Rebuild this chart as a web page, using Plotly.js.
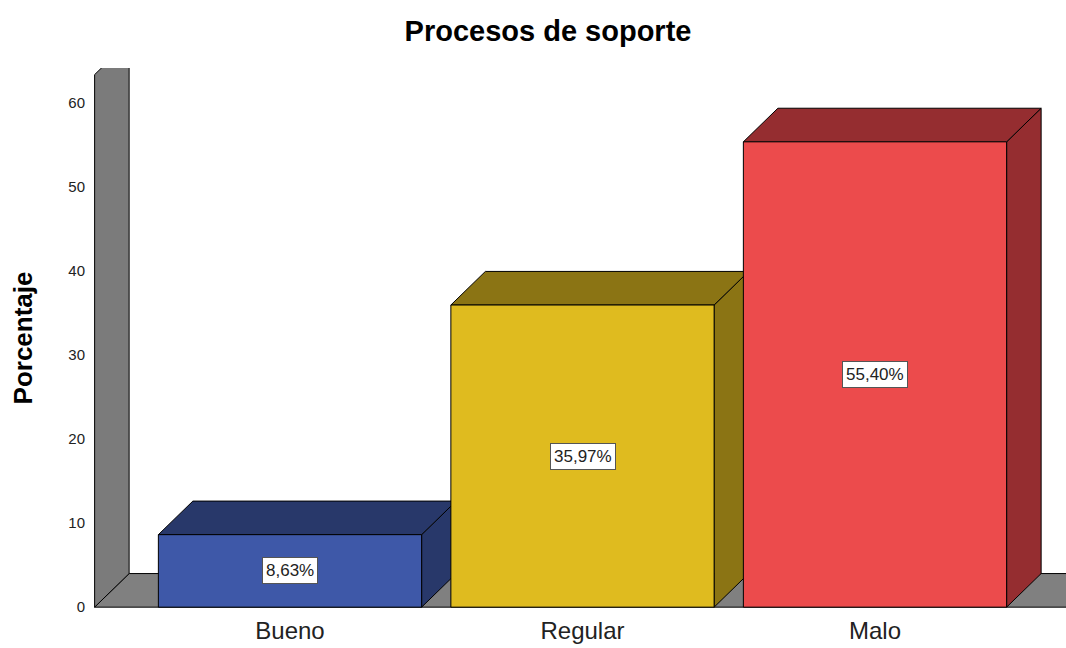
<!DOCTYPE html>
<html>
<head>
<meta charset="utf-8">
<script src="https://cdn.plot.ly/plotly-3.0.1.min.js"></script>
<style>html,body{margin:0;padding:0;background:#fff;}#chart{width:1066px;height:648px;}</style>
</head>
<body>
<div id="chart"></div>
<script>
// ---- data ----
const categories = ['Bueno', 'Regular', 'Malo'];
const percentages = [8.63, 35.97, 55.40];
const yTickValues = [0, 10, 20, 30, 40, 50, 60];
const frontColors = ['#3e58a8', '#dfbb1f', '#ec4b4c'];
const darkColors = ['#28386a', '#8b7414', '#952d30'];

// ---- 3D geometry (style constants) ----
const BAR_W = 0.9;      // bar width in category units
const DX = 0.118;       // depth offset, x (category units)
const DY = 4.0;         // depth offset, y (percent units)
const X_RANGE = [-0.6735, 2.653];
const Y_RANGE = [-0.1, 64.19];
const WALL_X = -0.668;
const WALL_TOP = 63.4;
const FLOOR_END = 3.2;
const FONT = 'Liberation Sans, Arial, sans-serif';

const poly = (xs, ys, fill) => ({
  type: 'scatter', mode: 'lines', x: xs.concat([xs[0]]), y: ys.concat([ys[0]]),
  fill: 'toself', fillcolor: fill, line: {color: '#000', width: 1},
  hoverinfo: 'skip', showlegend: false
});

const traces = [];
// floor
traces.push(poly([WALL_X, WALL_X + DX, FLOOR_END, FLOOR_END], [0, DY, DY, 0], '#808080'));
// left wall
traces.push(poly([WALL_X, WALL_X, WALL_X + DX, WALL_X + DX], [0, WALL_TOP, WALL_TOP + DY, DY], '#7b7b7b'));

const annotations = [];
categories.forEach((c, i) => {
  const v = percentages[i];
  const x0 = i - BAR_W / 2, x1 = i + BAR_W / 2;
  // right side face
  traces.push(poly([x1, x1, x1 + DX, x1 + DX], [0, v, v + DY, DY], darkColors[i]));
  // top face
  traces.push(poly([x0, x0 + DX, x1 + DX, x1], [v, v + DY, v + DY, v], darkColors[i]));
  // front face
  traces.push(poly([x0, x0, x1, x1], [0, v, v, 0], frontColors[i]));
  annotations.push({
    x: i, y: v / 2, xref: 'x', yref: 'y', showarrow: false,
    text: v.toFixed(2).replace('.', ',') + '%',
    font: {family: FONT, size: 17, color: '#222'},
    bgcolor: '#ffffff', bordercolor: '#555', borderwidth: 1, borderpad: 3
  });
});

const layout = {
  width: 1066, height: 648,
  margin: {l: 93, r: 0, t: 68, b: 40, pad: 0},
  paper_bgcolor: '#fff', plot_bgcolor: '#fff',
  font: {family: FONT, color: '#222'},
  title: {
    text: '<b>Procesos de soporte</b>',
    font: {family: FONT, size: 29, color: '#000'},
    x: 548 / 1066, xanchor: 'center', xref: 'container',
    y: 1 - 31 / 648, yanchor: 'middle', yref: 'container'
  },
  xaxis: {
    type: 'linear', range: X_RANGE, tickmode: 'array',
    tickvals: categories.map((c, i) => i), ticktext: categories,
    showgrid: false, zeroline: false, showline: false, ticks: '',
    ticklabelstandoff: 6,
    tickfont: {family: FONT, size: 24, color: '#222'},
    fixedrange: true
  },
  yaxis: {
    range: Y_RANGE, tickmode: 'array', tickvals: yTickValues,
    ticktext: yTickValues.map(String),
    showgrid: false, zeroline: false, showline: false, ticks: '',
    ticklabelstandoff: 7,
    tickfont: {family: FONT, size: 15, color: '#222'},
    title: {
      text: '<b>Porcentaje</b>', standoff: 28,
      font: {family: FONT, size: 26, color: '#000'}
    },
    fixedrange: true
  },
  annotations: annotations,
  showlegend: false
};

Plotly.newPlot('chart', traces, layout, {displayModeBar: false, staticPlot: true});
</script>
</body>
</html>
